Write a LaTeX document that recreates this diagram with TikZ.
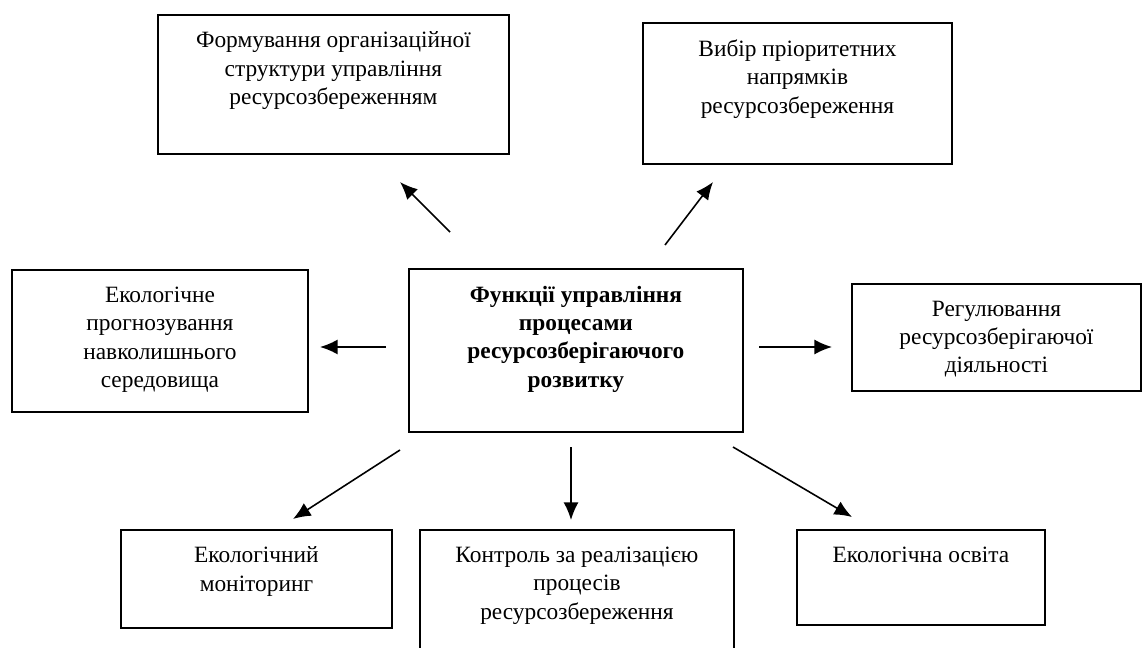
\documentclass[tikz,border=0pt]{standalone}
\usepackage{fontspec}
\setmainfont{Liberation Serif}
\usetikzlibrary{arrows.meta,positioning}
\tikzstyle{block} = [rectangle, draw, line width=1.1pt, anchor=north west,
    inner xsep=0pt, inner ysep=0.34cm, font=\fontsize{13.3}{16.1}\selectfont]
\tikzstyle{pointer} = [-{Latex[length=10pt,width=8.5pt]}, line width=0.9pt]
\newcommand{\boxtext}[3]{\parbox[t][#2][t]{#1}{\centering #3}}

\begin{document}
\begin{tikzpicture}[x=0.02cm, y=-0.02cm]
  \useasboundingbox (0,0) rectangle (1142,648);
  \clip (0,0) rectangle (1142,648);
  % Place boxes
  \node [block] (func) at (408,268)
  {\boxtext{6.68cm}{2.58cm}{\textbf{Функції управління}\\ \textbf{процесами}\\ \textbf{ресурсозберігаючого}\\ \textbf{розвитку}}};
  \node [block] (orgstr) at (157,14)
  {\boxtext{7.02cm}{2.10cm}{Формування організаційної\\ структури управління\\ ресурсозбереженням}};
  \node [block] (priority) at (642,22)
  {\boxtext{6.18cm}{2.14cm}{Вибір пріоритетних\\ напрямків\\ ресурсозбереження}};
  \node [block] (forecast) at (11,269)
  {\boxtext{5.92cm}{2.16cm}{Екологічне\\ прогнозування\\ навколишнього\\ середовища}};
  \node [block] (regul) at (851,283)
  {\boxtext{5.78cm}{1.46cm}{Регулювання\\ ресурсозберігаючої\\ діяльності}};
  \node [block] (monit) at (120,529)
  {\boxtext{5.42cm}{1.28cm}{Екологічний\\ моніторинг}};
  \node [block] (control) at (419,529)
  {\boxtext{6.28cm}{2.30cm}{Контроль за реалізацією\\ процесів\\ ресурсозбереження}};
  \node [block] (edu) at (796,529)
  {\boxtext{4.96cm}{1.22cm}{Екологічна освіта}};
  % Arrow ends
  \coordinate (fromorg) at (450,232);  \coordinate (toorg) at (400,182);
  \coordinate (fromprio) at (665,245); \coordinate (toprio) at (713,182);
  \coordinate (fromfore) at (386,347); \coordinate (tofore) at (320,347);
  \coordinate (fromreg) at (759,347);  \coordinate (toreg) at (832,347);
  \coordinate (frommon) at (400,450);  \coordinate (tomon) at (293,519);
  \coordinate (fromcon) at (571,447);  \coordinate (tocon) at (571,520);
  \coordinate (fromedu) at (733,447);  \coordinate (toedu) at (852,517);
  % Draw arrows
  \draw [pointer] (fromorg) -- (toorg);
  \draw [pointer] (fromprio) -- (toprio);
  \draw [pointer] (fromfore) -- (tofore);
  \draw [pointer] (fromreg) -- (toreg);
  \draw [pointer] (frommon) -- (tomon);
  \draw [pointer] (fromcon) -- (tocon);
  \draw [pointer] (fromedu) -- (toedu);
\end{tikzpicture}
\end{document}
